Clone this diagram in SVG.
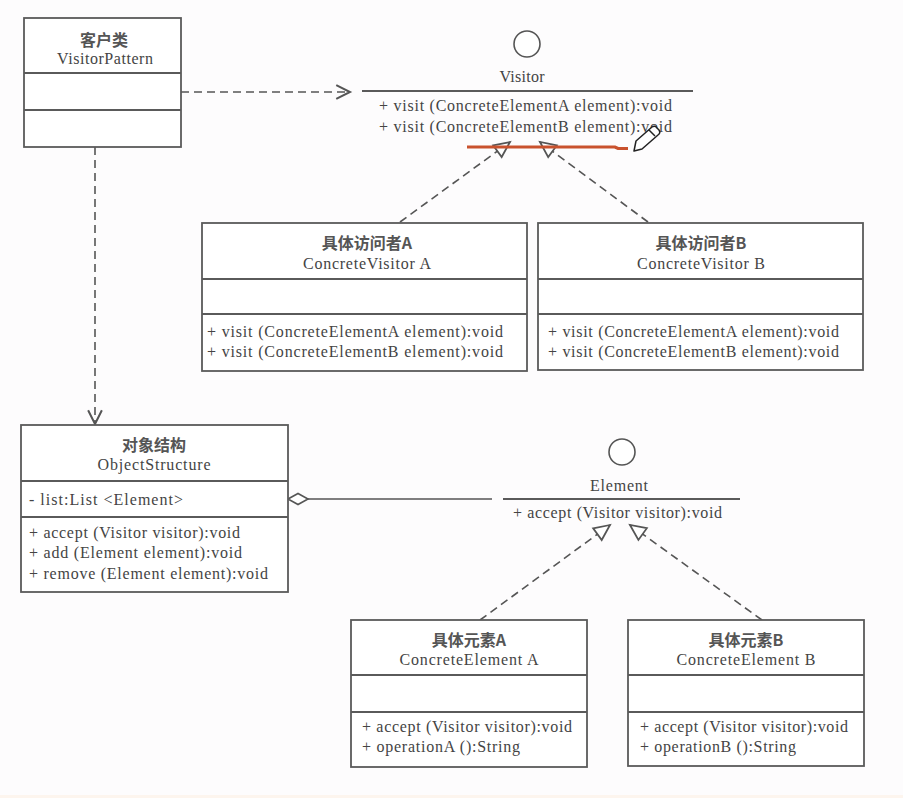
<svg xmlns="http://www.w3.org/2000/svg" width="903" height="798" viewBox="0 0 903 798">
<style>
.box{fill:#ffffff;stroke:#5a5a5a;stroke-width:1.8}
.div{stroke:#5a5a5a;stroke-width:1.8}
.t{font-family:"Liberation Serif","Noto Serif",serif;font-size:16px;fill:#444}
.c{font-family:"Noto Sans CJK SC","Noto Sans",sans-serif;font-size:16px;font-weight:bold;fill:#555}
.m{text-anchor:middle}
.dash{fill:none;stroke:#555;stroke-width:1.6;stroke-dasharray:8 5}
.solid{fill:none;stroke:#555;stroke-width:1.6}
</style>
<defs>
<marker id="open" markerUnits="userSpaceOnUse" markerWidth="20" markerHeight="20" refX="0" refY="0" viewBox="-14 -8 16 16" orient="auto">
<path d="M-11,-5.5 L0,0 L-11,5.5" fill="none" stroke="#555" stroke-width="1.6"/>
</marker>
<marker id="tri" markerUnits="userSpaceOnUse" markerWidth="20" markerHeight="20" refX="0" refY="0" viewBox="-16 -9 18 18" orient="auto">
<path d="M0,0 L-14,-6.5 L-14,6.5 Z" fill="#fff" stroke="#555" stroke-width="1.6"/>
</marker>
</defs>
<rect x="0" y="0" width="903" height="798" fill="#fdfcfd"/>
<rect x="0" y="795" width="903" height="3" fill="#fdf5ee"/>

<g id="connectors">
<path class="dash" d="M181,92 L350,92" marker-end="url(#open)"/>
<path class="dash" d="M95,147 L95,424" marker-end="url(#open)"/>
<path class="dash" d="M400,222 L510,142" marker-end="url(#tri)"/>
<path class="dash" d="M648,222 L540,142" marker-end="url(#tri)"/>
<path class="dash" d="M480,620 L610,525" marker-end="url(#tri)"/>
<path class="dash" d="M762,620 L630,525" marker-end="url(#tri)"/>
<path class="solid" d="M308,499 L492,499"/>
<path d="M288,499 L298,493.5 L308,499 L298,504.5 Z" fill="#fff" stroke="#555" stroke-width="1.6"/>
</g>

<g id="client">
<rect class="box" x="24" y="18" width="157" height="129"/>
<line class="div" x1="24" y1="73" x2="181" y2="73"/>
<line class="div" x1="24" y1="110" x2="181" y2="110"/>
<text class="c m" x="104" y="46" font-size="17">客户类</text>
<text class="t m" x="105" y="64" textLength="96" lengthAdjust="spacing">VisitorPattern</text>
</g>

<g id="visitor">
<circle cx="527" cy="44" r="13" fill="#fff" stroke="#555" stroke-width="1.6"/>
<text class="t m" x="522" y="82" textLength="45" lengthAdjust="spacing">Visitor</text>
<line class="div" x1="362" y1="91" x2="693" y2="91"/>
<text class="t" x="379" y="111" textLength="293" lengthAdjust="spacing">+ visit (ConcreteElementA element):void</text>
<text class="t" x="379" y="132" textLength="293" lengthAdjust="spacing">+ visit (ConcreteElementB element):void</text>
</g>

<g id="annotation">
<path d="M467,147 L615,147 L618,148.5 L628,148.5" fill="none" stroke="#c9522e" stroke-width="3.2"/>
<path d="M636,141 L652,127 Q655,125 657,128 L659,130 Q661,133 658,135 L642,149 L634,151 Z M649,130 L655,136" fill="#fff" stroke="#222" stroke-width="1.5" stroke-linejoin="round"/>
</g>

<g id="concreteVisitorA">
<rect class="box" x="202" y="223" width="325" height="148"/>
<line class="div" x1="202" y1="279" x2="527" y2="279"/>
<line class="div" x1="202" y1="314" x2="527" y2="314"/>
<text class="c m" x="367" y="249" font-size="17">具体访问者A</text>
<text class="t m" x="367" y="269" textLength="128" lengthAdjust="spacing">ConcreteVisitor A</text>
<text class="t" x="207" y="337" textLength="296" lengthAdjust="spacing">+ visit (ConcreteElementA element):void</text>
<text class="t" x="207" y="357" textLength="296" lengthAdjust="spacing">+ visit (ConcreteElementB element):void</text>
</g>

<g id="concreteVisitorB">
<rect class="box" x="538" y="223" width="325" height="147"/>
<line class="div" x1="538" y1="279" x2="863" y2="279"/>
<line class="div" x1="538" y1="314" x2="863" y2="314"/>
<text class="c m" x="701" y="249" font-size="17">具体访问者B</text>
<text class="t m" x="701" y="269" textLength="128" lengthAdjust="spacing">ConcreteVisitor B</text>
<text class="t" x="548" y="337" textLength="291" lengthAdjust="spacing">+ visit (ConcreteElementA element):void</text>
<text class="t" x="548" y="357" textLength="291" lengthAdjust="spacing">+ visit (ConcreteElementB element):void</text>
</g>

<g id="objectStructure">
<rect class="box" x="21" y="425" width="267" height="167"/>
<line class="div" x1="21" y1="481" x2="288" y2="481"/>
<line class="div" x1="21" y1="517" x2="288" y2="517"/>
<text class="c m" x="154" y="451" font-size="17">对象结构</text>
<text class="t m" x="154" y="470" textLength="113" lengthAdjust="spacing">ObjectStructure</text>
<text class="t" x="29" y="505" textLength="154" lengthAdjust="spacing">- list:List &lt;Element&gt;</text>
<text class="t" x="29" y="538" textLength="211" lengthAdjust="spacing">+ accept (Visitor visitor):void</text>
<text class="t" x="29" y="558" textLength="213" lengthAdjust="spacing">+ add (Element element):void</text>
<text class="t" x="29" y="579" textLength="239" lengthAdjust="spacing">+ remove (Element element):void</text>
</g>

<g id="element">
<circle cx="622" cy="452" r="13" fill="#fff" stroke="#555" stroke-width="1.6"/>
<text class="t m" x="619" y="491" textLength="58" lengthAdjust="spacing">Element</text>
<line class="div" x1="503" y1="499" x2="740" y2="499"/>
<text class="t" x="513" y="518" textLength="209" lengthAdjust="spacing">+ accept (Visitor visitor):void</text>
</g>

<g id="concreteElementA">
<rect class="box" x="351" y="620" width="236" height="147"/>
<line class="div" x1="351" y1="675" x2="587" y2="675"/>
<line class="div" x1="351" y1="712" x2="587" y2="712"/>
<text class="c m" x="469" y="646" font-size="17">具体元素A</text>
<text class="t m" x="469" y="665" textLength="139" lengthAdjust="spacing">ConcreteElement A</text>
<text class="t" x="362" y="732" textLength="210" lengthAdjust="spacing">+ accept (Visitor visitor):void</text>
<text class="t" x="362" y="752" textLength="158" lengthAdjust="spacing">+ operationA ():String</text>
</g>

<g id="concreteElementB">
<rect class="box" x="628" y="620" width="236" height="146"/>
<line class="div" x1="628" y1="675" x2="864" y2="675"/>
<line class="div" x1="628" y1="712" x2="864" y2="712"/>
<text class="c m" x="746" y="646" font-size="17">具体元素B</text>
<text class="t m" x="746" y="665" textLength="139" lengthAdjust="spacing">ConcreteElement B</text>
<text class="t" x="640" y="732" textLength="208" lengthAdjust="spacing">+ accept (Visitor visitor):void</text>
<text class="t" x="640" y="752" textLength="156" lengthAdjust="spacing">+ operationB ():String</text>
</g>
</svg>
